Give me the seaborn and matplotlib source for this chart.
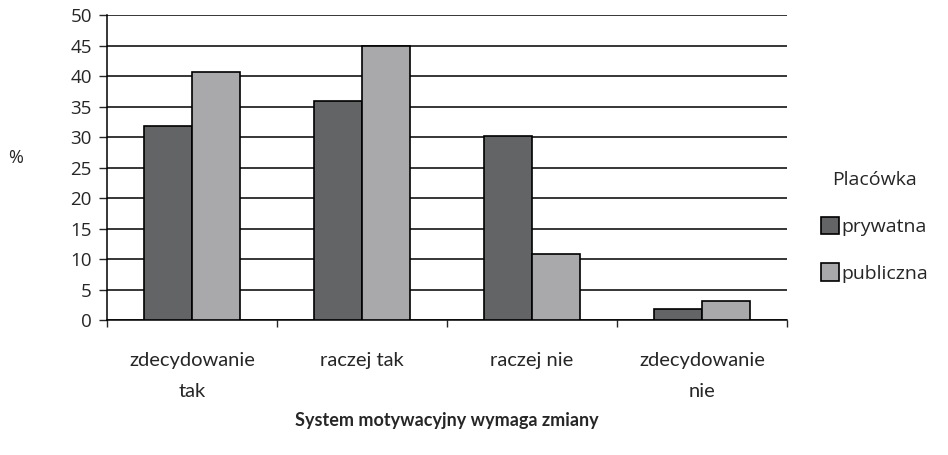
import pandas as pd
import matplotlib.pyplot as plt
import seaborn as sns
import numpy as np

categories = ['zdecydowanie\ntak', 'raczej tak', 'raczej nie', 'zdecydowanie\nnie']
prywatna = [31.8, 35.9, 30.2, 1.8]
publiczna = [40.7, 44.9, 10.9, 3.1]
groups = ['prywatna', 'publiczna']

df = pd.DataFrame({
    'kategoria': categories * 2,
    'placowka': ['prywatna'] * 4 + ['publiczna'] * 4,
    'procent': prywatna + publiczna,
})

sns.set_style("white")
plt.rcParams['font.family'] = ['Open Sans', 'DejaVu Sans']

fig = plt.figure(figsize=(9.48, 4.55), dpi=100)
ax = fig.add_axes([0.1129, 0.2967, 0.7173, 0.6703])

sns.barplot(data=df, x='kategoria', y='procent', hue='placowka', order=categories,
            hue_order=groups, palette={'prywatna': '#636466', 'publiczna': '#a8a9ad'},
            width=0.565, gap=0, edgecolor='black', linewidth=1.2, ax=ax, zorder=3)

ax.set_ylim(0, 50)
ax.set_xlim(-0.5, 3.5)
ax.set_yticks(np.arange(0, 51, 5))
ax.yaxis.grid(True, color='black', linewidth=1.1, zorder=0)
ax.set_axisbelow(True)
for s in ['top', 'right']:
    ax.spines[s].set_visible(False)
ax.spines['left'].set_color('black')
ax.spines['bottom'].set_color('black')
ax.spines['left'].set_linewidth(1.1)
ax.spines['bottom'].set_linewidth(1.1)

ax.tick_params(axis='y', direction='out', length=6, width=1, labelsize=13.5, pad=5, left=True)
ax.set_xticks(np.arange(-0.5, 3.6, 1), minor=True)
ax.tick_params(axis='x', which='minor', direction='out', length=5, width=1, bottom=True)
ax.tick_params(axis='x', which='major', length=0, pad=23)
ax.set_xticklabels(categories, fontsize=14.5, family=['Lato', 'DejaVu Sans'], linespacing=2.0)

ax.set_ylabel('%', rotation=0, fontsize=13, labelpad=0, va='center')
ax.yaxis.set_label_coords(-0.135, 0.53)
ax.set_xlabel('System motywacyjny wymaga zmiany', fontsize=13, fontweight='bold',
              family=['Lato', 'DejaVu Sans'], labelpad=9)

ax.legend(title='Placówka', loc='center left', bbox_to_anchor=(1.015, 0.305), frameon=False,
          fontsize=14, title_fontsize=14, handlelength=0.95, handleheight=1.0,
          handletextpad=0.1, labelspacing=1.4, borderaxespad=0.8)

fig.savefig('out.png', dpi=100)
